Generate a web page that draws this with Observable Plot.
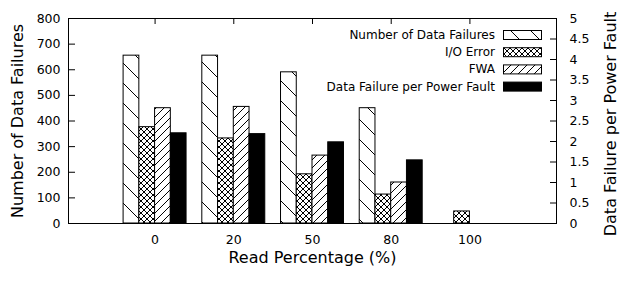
<!DOCTYPE html>
<html>
<head>
<meta charset="utf-8">
<script src="https://cdn.jsdelivr.net/npm/d3@7"></script>
<script src="https://cdn.jsdelivr.net/npm/@observablehq/plot@0.6"></script>
<style>
  html, body { margin: 0; padding: 0; background: white; }
  #chart { width: 620px; height: 283px; }
</style>
</head>
<body>
<div id="chart"></div>
<script>
// ---- data ----
const categories = ["0", "20", "50", "80", "100"];
const dataFailures = [655, 655, 590, 450, 0];
const ioError = [376, 332, 192, 113, 47];
const fwa = [450, 455, 265, 160, 0];
const failurePerFault = [2.2, 2.18, 1.98, 1.54, 0];
const leftTicks = [0, 100, 200, 300, 400, 500, 600, 700, 800];
const rightTicks = [0, 0.5, 1, 1.5, 2, 2.5, 3, 3.5, 4, 4.5, 5];
const seriesNames = ["Number of Data Failures", "I/O Error", "FWA", "Data Failure per Power Fault"];
const xTitle = "Read Percentage (%)";
const yTitle = "Number of Data Failures";
const y2Title = "Data Failure per Power Fault";

// ---- layout ----
const W = 620, H = 283;
const mL = 68, mR = 64, mT = 18, mB = 60;
const innerW = W - mL - mR, innerH = H - mT - mB;
const ratio = 800 / 5; // right-axis to left-axis factor
const fills = ["url(#hatchBack)", "url(#hatchCross)", "url(#hatchFwd)", "black"];
const offsets = [-0.3, -0.1, 0.1, 0.3];
const barW = 0.2;
const seriesValues = [dataFailures, ioError, fwa, failurePerFault.map(v => v * ratio)];
const idx = categories.map((_, i) => i);

const barMarks = seriesValues.map((vals, s) => {
  const rows = vals.map((v, i) => ({i, v})).filter(d => d.v > 0);
  return Plot.rectY(rows, {
    x1: d => d.i + offsets[s] - barW / 2,
    x2: d => d.i + offsets[s] + barW / 2,
    y1: 0,
    y2: d => d.v,
    fill: fills[s],
    stroke: "black",
    strokeWidth: 1
  });
});

const plot = Plot.plot({
  width: W,
  height: H,
  marginLeft: mL,
  marginRight: mR,
  marginTop: mT,
  marginBottom: mB,
  style: {fontFamily: "DejaVu Sans", fontSize: "12.5px", background: "white", color: "black"},
  x: {domain: [-1.1, 5.1], axis: null},
  y: {domain: [0, 800], axis: null},
  marks: [
    ...barMarks,
    Plot.axisY(leftTicks, {anchor: "left", tickSize: 0, tickPadding: 8, label: null, fontSize: 12.5}),
    Plot.axisY(rightTicks.map(v => v * ratio), {anchor: "right", tickSize: 0, tickPadding: 13, label: null, fontSize: 12.5, tickFormat: d => String(+(d / ratio).toFixed(1))}),
    Plot.axisX(idx, {anchor: "bottom", tickSize: 0, tickPadding: 12, label: null, fontSize: 12.5, tickFormat: i => categories[i]}),
    Plot.tickY(leftTicks, {y: d => d, insetRight: innerW - 7, stroke: "black"}),
    Plot.tickY(rightTicks.map(v => v * ratio), {y: d => d, insetLeft: innerW - 6, stroke: "black"}),
    Plot.tickX(idx, {x: d => d, insetBottom: innerH - 6, stroke: "black"}),
    Plot.frame({stroke: "black", strokeWidth: 1}),
    Plot.text([yTitle], {frameAnchor: "left", dx: -51, rotate: -90, fontSize: 16, textAnchor: "middle", lineAnchor: "middle", text: d => d}),
    Plot.text([y2Title], {frameAnchor: "right", dx: 54, dy: 3, rotate: -90, fontSize: 16, textAnchor: "middle", lineAnchor: "middle", text: d => d}),
    Plot.text([xTitle], {frameAnchor: "bottom", dy: 34, fontSize: 16, textAnchor: "middle", lineAnchor: "middle", text: d => d})
  ]
});

// patterns
const svg = d3.select(plot);
const defs = svg.insert("defs", ":first-child");
const back = defs.append("pattern").attr("id", "hatchBack").attr("patternUnits", "userSpaceOnUse")
  .attr("width", 20).attr("height", 20);
back.append("rect").attr("width", 20).attr("height", 20).attr("fill", "white");
back.append("path").attr("d", "M-5,-5 L25,25 M-5,15 L5,25 M15,-5 L25,5").attr("stroke", "black").attr("stroke-width", 1);
const fwd = defs.append("pattern").attr("id", "hatchFwd").attr("patternUnits", "userSpaceOnUse")
  .attr("width", 8).attr("height", 8);
fwd.append("rect").attr("width", 8).attr("height", 8).attr("fill", "white");
fwd.append("path").attr("d", "M-2,10 L10,-2 M-2,2 L2,-2 M6,10 L10,6").attr("stroke", "black").attr("stroke-width", 1);
const cross = defs.append("pattern").attr("id", "hatchCross").attr("patternUnits", "userSpaceOnUse")
  .attr("width", 6).attr("height", 6);
cross.append("rect").attr("width", 6).attr("height", 6).attr("fill", "white");
cross.append("path").attr("d", "M-1,-1 L7,7 M-1,7 L7,-1").attr("stroke", "black").attr("stroke-width", 1);

// legend (inside plot area, top right)
const legend = svg.append("g").attr("font-family", "DejaVu Sans").attr("font-size", 12);
seriesNames.forEach((name, s) => {
  const cy = 35 + s * 17.2;
  legend.append("text").attr("x", 495).attr("y", cy).attr("text-anchor", "end")
    .attr("dominant-baseline", "central").attr("fill", "black").text(name);
  legend.append("rect").attr("x", 503.5).attr("y", cy - 4.5).attr("width", 38).attr("height", 9)
    .attr("fill", fills[s]).attr("stroke", "black").attr("stroke-width", 1);
});

document.getElementById("chart").appendChild(plot);
</script>
</body>
</html>
